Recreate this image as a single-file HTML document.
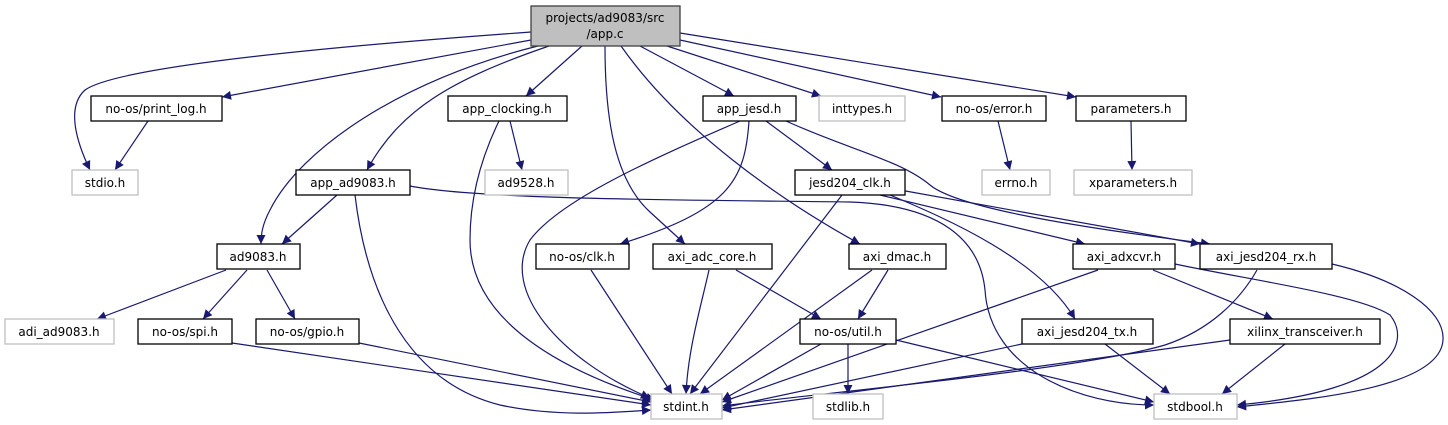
<!DOCTYPE html>
<html><head><meta charset="utf-8"><style>
html,body{margin:0;padding:0;background:#fff;}
svg{display:block;}
text{font-family:"DejaVu Sans","Liberation Sans",sans-serif;font-size:12px;fill:#000;}
</style></head><body>
<svg width="1448" height="425" viewBox="0 0 1448 425" xmlns="http://www.w3.org/2000/svg">
<defs>
<marker id="a" viewBox="0 0 10 10" refX="10" refY="5" markerWidth="11" markerHeight="9" markerUnits="userSpaceOnUse" orient="auto">
<path d="M0,0 L10,5 L0,10 z" fill="#191970"/>
</marker>
</defs>
<g fill="none" stroke="#191970" stroke-width="1.2" marker-end="url(#a)">
<path d="M531,32 C350,45 120,65 85,90 C65,108 78,145 90,170"/>
<path d="M531,40 L222,97"/>
<path d="M538,46 C400,80 300,150 270,210 C262,225 261,235 261,244"/>
<path d="M549,46 C450,80 400,110 367,170"/>
<path d="M582,46 L526,96"/>
<path d="M605,46 C605,120 615,180 650,212 L685,244"/>
<path d="M621,46 C680,130 780,200 860,244"/>
<path d="M640,46 L734,96"/>
<path d="M667,46 L821,96"/>
<path d="M680,40 L941,97"/>
<path d="M680,33 L1076,97"/>
<path d="M998,121 L1010,170"/>
<path d="M1131,121 L1132,170"/>
<path d="M148,121 L115,170"/>
<path d="M510,121 L522,170"/>
<path d="M499,121 C480,160 470,200 470,240 C470,320 560,370 655,400"/>
<path d="M337,195 L282,244"/>
<path d="M355,195 C365,280 400,380 500,405 C560,418 620,412 651,410"/>
<path d="M410,186 C480,200 700,200 850,202 C940,205 980,240 985,290 C990,370 1080,405 1154,405"/>
<path d="M226,270 L97,319"/>
<path d="M247,270 L203,319"/>
<path d="M267,270 L295,319"/>
<path d="M232,343 L651,405"/>
<path d="M359,343 L651,402"/>
<path d="M740,121 C650,160 560,200 530,240 C500,290 560,360 650,398"/>
<path d="M749,121 C745,180 730,210 620,244"/>
<path d="M766,121 L832,170"/>
<path d="M786,121 C850,150 900,160 930,185 C960,210 1100,230 1210,244"/>
<path d="M842,195 L690,394"/>
<path d="M880,195 L1085,244"/>
<path d="M900,190 L1200,244"/>
<path d="M890,195 C950,220 1040,260 1075,319"/>
<path d="M591,270 L672,394"/>
<path d="M709,270 C700,310 688,350 686,394"/>
<path d="M736,270 L821,319"/>
<path d="M888,270 L858,319"/>
<path d="M872,270 L700,394"/>
<path d="M1098,270 L722,402"/>
<path d="M1153,270 L1273,319"/>
<path d="M1175,264 C1250,280 1360,295 1390,315 C1410,340 1400,390 1237,405"/>
<path d="M1257,270 C1240,300 1210,330 1165,345 C1080,370 800,395 722,406"/>
<path d="M1332,264 C1400,280 1445,310 1443,340 C1440,390 1300,400 1237,407"/>
<path d="M821,344 L722,400"/>
<path d="M848,344 L848,394"/>
<path d="M896,340 L1154,402"/>
<path d="M1022,344 L722,408"/>
<path d="M1105,344 L1170,394"/>
<path d="M1230,340 L722,410"/>
<path d="M1285,344 L1222,394"/>
</g>
<g stroke-width="1.3">
<rect x="531" y="6" width="149" height="40" fill="#bfbfbf" stroke="#404040"/>
<g fill="#fff" stroke="#000">
<rect x="91" y="96" width="131" height="25"/>
<rect x="448" y="96" width="119" height="25"/>
<rect x="703" y="96" width="93" height="25"/>
<rect x="942" y="96" width="104" height="25"/>
<rect x="1076" y="96" width="110" height="25"/>
<rect x="296" y="170" width="114" height="25"/>
<rect x="795" y="170" width="110" height="25"/>
<rect x="217" y="244" width="83" height="25"/>
<rect x="536" y="244" width="93" height="25"/>
<rect x="653" y="244" width="119" height="25"/>
<rect x="849" y="244" width="97" height="25"/>
<rect x="1073" y="244" width="102" height="25"/>
<rect x="1200" y="244" width="132" height="25"/>
<rect x="138" y="319" width="94" height="25"/>
<rect x="256" y="319" width="103" height="25"/>
<rect x="800" y="319" width="96" height="25"/>
<rect x="1022" y="319" width="131" height="25"/>
<rect x="1230" y="319" width="150" height="25"/>
</g>
<g fill="#fff" stroke="#c0c0c0">
<rect x="72" y="170" width="66" height="25"/>
<rect x="485" y="170" width="83" height="25"/>
<rect x="819" y="96" width="86" height="25"/>
<rect x="982" y="170" width="68" height="25"/>
<rect x="1074" y="170" width="118" height="25"/>
<rect x="5" y="319" width="109" height="25"/>
<rect x="651" y="394" width="71" height="25"/>
<rect x="813" y="394" width="70" height="25"/>
<rect x="1154" y="394" width="83" height="25"/>
</g>
</g>
<g text-anchor="middle">
<text x="605" y="22">projects/ad9083/src</text>
<text x="605" y="38">/app.c</text>
<text x="156" y="113">no-os/print_log.h</text>
<text x="507" y="113">app_clocking.h</text>
<text x="749" y="113">app_jesd.h</text>
<text x="862" y="113">inttypes.h</text>
<text x="994" y="113">no-os/error.h</text>
<text x="1131" y="113">parameters.h</text>
<text x="105" y="187">stdio.h</text>
<text x="353" y="187">app_ad9083.h</text>
<text x="526" y="187">ad9528.h</text>
<text x="850" y="187">jesd204_clk.h</text>
<text x="1016" y="187">errno.h</text>
<text x="1133" y="187">xparameters.h</text>
<text x="258" y="261">ad9083.h</text>
<text x="582" y="261">no-os/clk.h</text>
<text x="712" y="261">axi_adc_core.h</text>
<text x="897" y="261">axi_dmac.h</text>
<text x="1124" y="261">axi_adxcvr.h</text>
<text x="1266" y="261">axi_jesd204_rx.h</text>
<text x="59" y="336">adi_ad9083.h</text>
<text x="185" y="336">no-os/spi.h</text>
<text x="307" y="336">no-os/gpio.h</text>
<text x="848" y="336">no-os/util.h</text>
<text x="1087" y="336">axi_jesd204_tx.h</text>
<text x="1305" y="336">xilinx_transceiver.h</text>
<text x="686" y="411">stdint.h</text>
<text x="848" y="411">stdlib.h</text>
<text x="1195" y="411">stdbool.h</text>
</g>
</svg>
</body></html>
